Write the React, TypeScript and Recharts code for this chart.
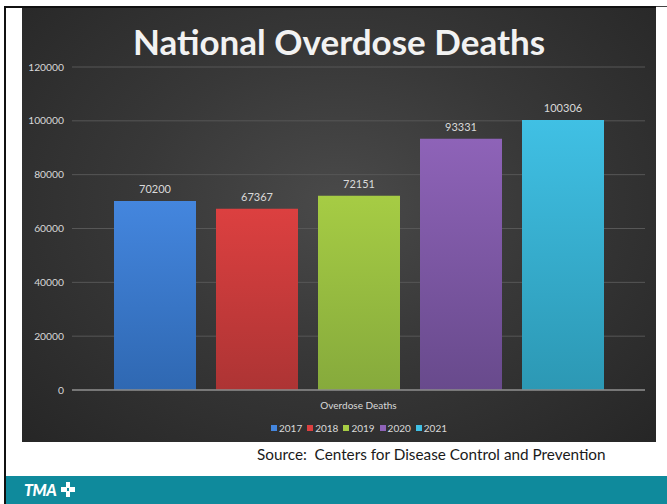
import React from "react";
import { BarChart, Bar, XAxis, YAxis, CartesianGrid, LabelList, Legend } from "recharts";

const categories = ["Overdose Deaths"];
const years = ["2017", "2018", "2019", "2020", "2021"];
const deaths = [70200, 67367, 72151, 93331, 100306];
const yTicks = [0, 20000, 40000, 60000, 80000, 100000, 120000];
const topColors = ["#4486de", "#dc4040", "#a6cc44", "#8e63b8", "#40c0e4"];
const bottomColors = ["#2f68b2", "#ad3434", "#86aa3c", "#684a8c", "#2c98b4"];

const data = categories.map((c) => {
  const row: Record<string, string | number> = { name: c };
  years.forEach((y, i) => {
    row["y" + y] = deaths[i];
  });
  return row;
});

const FONT = "Lato, 'Open Sans', sans-serif";

const LegendContent = () => (
  <div
    style={{
      display: "flex",
      justifyContent: "center",
      alignItems: "center",
      fontFamily: FONT,
      fontSize: 10,
      color: "#d9d9d9",
      height: 20,
      paddingLeft: 56,
    }}
  >
    {years.map((y, i) => (
      <span key={y} style={{ display: "inline-flex", alignItems: "center", marginRight: 5 }}>
        <span
          style={{
            display: "inline-block",
            width: 6,
            height: 6,
            background: topColors[i],
            marginRight: 2,
          }}
        />
        {y}
      </span>
    ))}
  </div>
);

export default function App() {
  return (
    <div
      style={{
        position: "absolute",
        left: 0,
        top: 0,
        width: 667,
        height: 504,
        background: "#ffffff",
        overflow: "hidden",
      }}
    >
      {/* frame lines */}
      <div style={{ position: "absolute", left: 4, top: 6, width: 2, height: 498, background: "#111" }} />
      <div style={{ position: "absolute", left: 4, top: 6, width: 652, height: 2, background: "#111" }} />
      <div style={{ position: "absolute", left: 656, top: 6, width: 11, height: 1, background: "#444" }} />

      {/* dark panel */}
      <div
        style={{
          position: "absolute",
          left: 22,
          top: 8,
          width: 634,
          height: 434,
          background: "radial-gradient(ellipse at 50% 45%, #4a4a4a 0%, #383838 45%, #262626 100%)",
        }}
      >
        <div
          style={{
            position: "absolute",
            left: 0,
            top: 12,
            width: 634,
            textAlign: "center",
            fontFamily: FONT,
            fontWeight: 700,
            fontSize: 35,
            lineHeight: "42px",
            color: "#f2f2f2",
          }}
        >
          National Overdose Deaths
        </div>
        <BarChart
          width={634}
          height={434}
          data={data}
          margin={{ top: 59, right: 11, left: 0, bottom: 4 }}
          barGap={20}
          barCategoryGap={42}
        >
          <defs>
            {years.map((y, i) => (
              <linearGradient key={y} id={"g" + i} x1="0" y1="0" x2="0" y2="1">
                <stop offset="0%" stopColor={topColors[i]} />
                <stop offset="100%" stopColor={bottomColors[i]} />
              </linearGradient>
            ))}
          </defs>
          <CartesianGrid vertical={false} stroke="#575757" strokeWidth={1} />
          <XAxis
            dataKey="name"
            height={28}
            tickLine={false}
            axisLine={{ stroke: "#8a8a8a", strokeWidth: 1.5 }}
            tick={{ fill: "#d9d9d9", fontSize: 10, fontFamily: FONT }}
            tickMargin={6}
          />
          <YAxis
            width={50}
            domain={[0, 120000]}
            ticks={yTicks}
            tickLine={false}
            axisLine={false}
            interval={0}
            tick={{ fill: "#d9d9d9", fontSize: 10.3, fontFamily: FONT }}
          />
          <Legend verticalAlign="bottom" height={20} content={<LegendContent />} />
          {years.map((y, i) => (
            <Bar
              key={y}
              dataKey={"y" + y}
              name={y}
              fill={"url(#g" + i + ")"}
              barSize={82}
              isAnimationActive={false}
            >
              <LabelList
                dataKey={"y" + y}
                position="top"
                offset={8}
                fill="#d9d9d9"
                fontSize={11}
                fontFamily={FONT}
              />
            </Bar>
          ))}
        </BarChart>
      </div>

      {/* source */}
      <div
        style={{
          position: "absolute",
          left: 257,
          top: 445,
          fontFamily: FONT,
          fontSize: 15.3,
          color: "#1a1a1a",
          whiteSpace: "pre",
        }}
      >
        {"Source:  Centers for Disease Control and Prevention"}
      </div>

      {/* teal footer */}
      <div style={{ position: "absolute", left: 6, top: 476, width: 661, height: 28, background: "#0f8a9c" }}>
        <div
          style={{
            position: "absolute",
            left: 18,
            top: 4,
            fontFamily: FONT,
            fontWeight: 900,
            fontStyle: "italic",
            fontSize: 16,
            color: "#ffffff",
            letterSpacing: -0.5,
          }}
        >
          TMA
        </div>
        <div style={{ position: "absolute", left: 55, top: 6, width: 14, height: 15 }}>
          <div style={{ position: "absolute", left: 5, top: 0, width: 4, height: 15, background: "#fff" }} />
          <div style={{ position: "absolute", left: 0, top: 5, width: 14, height: 5, background: "#fff" }} />
          <div style={{ position: "absolute", left: 6, top: 6, width: 2, height: 3, background: "#0f8a9c" }} />
        </div>
      </div>
    </div>
  );
}
